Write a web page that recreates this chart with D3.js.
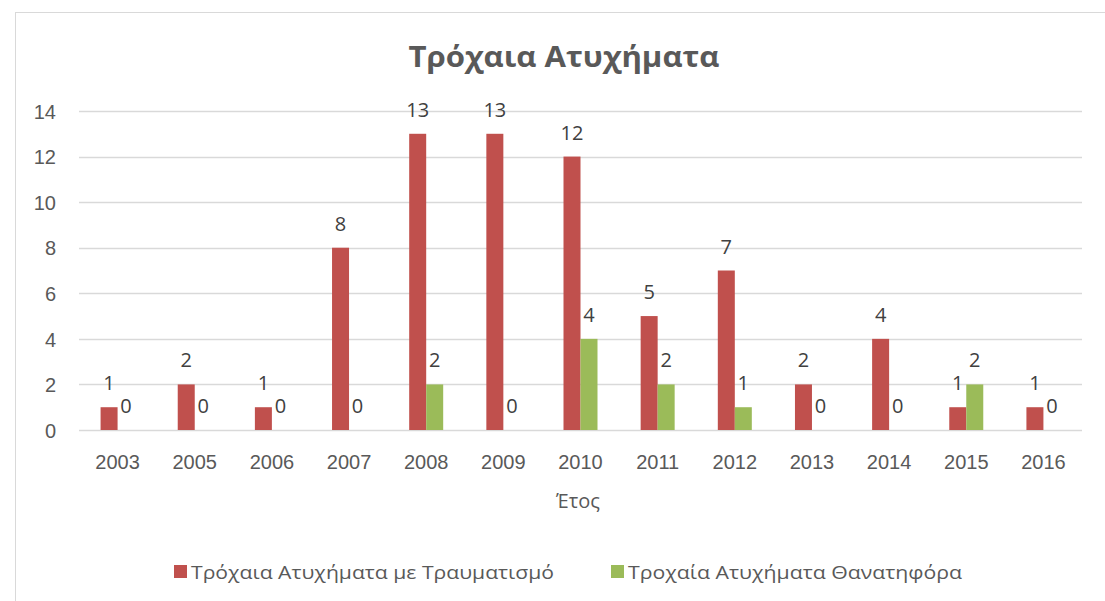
<!DOCTYPE html>
<html>
<head>
<meta charset="utf-8">
<script src="https://cdn.jsdelivr.net/npm/d3@7"></script>
<style>
  body { margin: 0; background: #fff; }
  svg { display: block; font-family: "Open Sans", "Noto Sans", sans-serif; }
</style>
</head>
<body>
<script>
// chart data ---------------------------------------
var years = ['2003', '2005', '2006', '2007', '2008', '2009', '2010', '2011', '2012', '2013', '2014', '2015', '2016'];
var injuries = [1, 2, 1, 8, 13, 13, 12, 5, 7, 2, 4, 1, 1];
var fatal = [0, 0, 0, 0, 2, 0, 4, 2, 1, 0, 0, 2, 0];
var seriesNames = ['Τρόχαια Ατυχήματα με Τραυματισμό', 'Τροχαία Ατυχήματα Θανατηφόρα'];
var seriesColors = ['#C0504D', '#9BBB59'];
var yTicks = [0, 2, 4, 6, 8, 10, 12, 14];

var width = 1105, height = 601;
var plot = { left: 79, right: 1082, top: 111, bottom: 430 };

var svg = d3.select('body').append('svg')
  .attr('width', width)
  .attr('height', height);

// chart frame (runs off the right and bottom edge)
svg.append('rect')
  .attr('x', 15.5).attr('y', 12.5)
  .attr('width', 1200).attr('height', 700)
  .attr('fill', '#fff')
  .attr('stroke', '#D9D9D9');

// scales
var x = d3.scaleBand().domain(years).range([plot.left, plot.right]);
var x1 = d3.scaleBand().domain([0, 1]).range([x.bandwidth() / 2 - 17, x.bandwidth() / 2 + 17]);
var y = d3.scaleLinear().domain([0, 14]).range([plot.bottom, plot.top]);

// gridlines
svg.append('g').selectAll('line')
  .data(yTicks)
  .enter().append('line')
  .attr('x1', plot.left).attr('x2', plot.right)
  .attr('y1', function(d) { return Math.round(y(d)) + 0.5; })
  .attr('y2', function(d) { return Math.round(y(d)) + 0.5; })
  .attr('stroke', '#D9D9D9')
  .attr('stroke-width', 1.4);

// y axis
var yAxis = svg.append('g')
  .attr('transform', 'translate(56,0)')
  .call(d3.axisLeft(y).tickValues(yTicks).tickSize(0).tickPadding(0));
yAxis.select('.domain').remove();
yAxis.selectAll('text')
  .attr('fill', '#595959')
  .style('font-size', '20px')
  .attr('dy', '0.36em');

// x axis
var xAxis = svg.append('g')
  .attr('transform', 'translate(0,' + plot.bottom + ')')
  .call(d3.axisBottom(x).tickSize(0).tickPadding(0));
xAxis.select('.domain').remove();
xAxis.selectAll('text')
  .attr('fill', '#595959')
  .style('font-size', '20px')
  .attr('y', 39)
  .attr('dy', null);

// bars + value labels
var series = [injuries, fatal];
series.forEach(function(values, s) {
  var g = svg.append('g');
  g.selectAll('rect')
    .data(values)
    .enter().append('rect')
    .attr('x', function(d, i) { return x(years[i]) + x1(s); })
    .attr('y', function(d) { return y(d); })
    .attr('width', x1.bandwidth())
    .attr('height', function(d) { return y(0) - y(d); })
    .attr('fill', seriesColors[s]);
  g.selectAll('text')
    .data(values)
    .enter().append('text')
    .attr('x', function(d, i) { return x(years[i]) + x1(s) + x1.bandwidth() / 2; })
    .attr('y', function(d) { return y(d) - 17; })
    .attr('text-anchor', 'middle')
    .attr('fill', '#404040')
    .style('font-size', '20px')
    .text(function(d) { return d; });
});

// title
svg.append('text')
  .attr('x', 564).attr('y', 67)
  .attr('text-anchor', 'middle')
  .attr('fill', '#595959')
  .style('font-size', '29px')
  .style('font-weight', 'bold')
  .attr('textLength', 311)
  .attr('lengthAdjust', 'spacingAndGlyphs')
  .text('Τρόχαια Ατυχήματα');

// axis title
svg.append('text')
  .attr('x', 578).attr('y', 508)
  .attr('text-anchor', 'middle')
  .attr('fill', '#595959')
  .style('font-size', '20px')
  .text('Έτος');

// legend
var legendX = [174, 611];
var legendW = [363, 334];
var legend = svg.append('g').selectAll('g')
  .data(seriesNames)
  .enter().append('g')
  .attr('transform', function(d, i) { return 'translate(' + legendX[i] + ',565)'; });
legend.append('rect')
  .attr('width', 13).attr('height', 13)
  .attr('fill', function(d, i) { return seriesColors[i]; });
legend.append('text')
  .attr('x', 17).attr('y', 14)
  .attr('fill', '#595959')
  .style('font-size', '19px')
  .attr('textLength', function(d, i) { return legendW[i]; })
  .attr('lengthAdjust', 'spacingAndGlyphs')
  .text(function(d) { return d; });
</script>
</body>
</html>
